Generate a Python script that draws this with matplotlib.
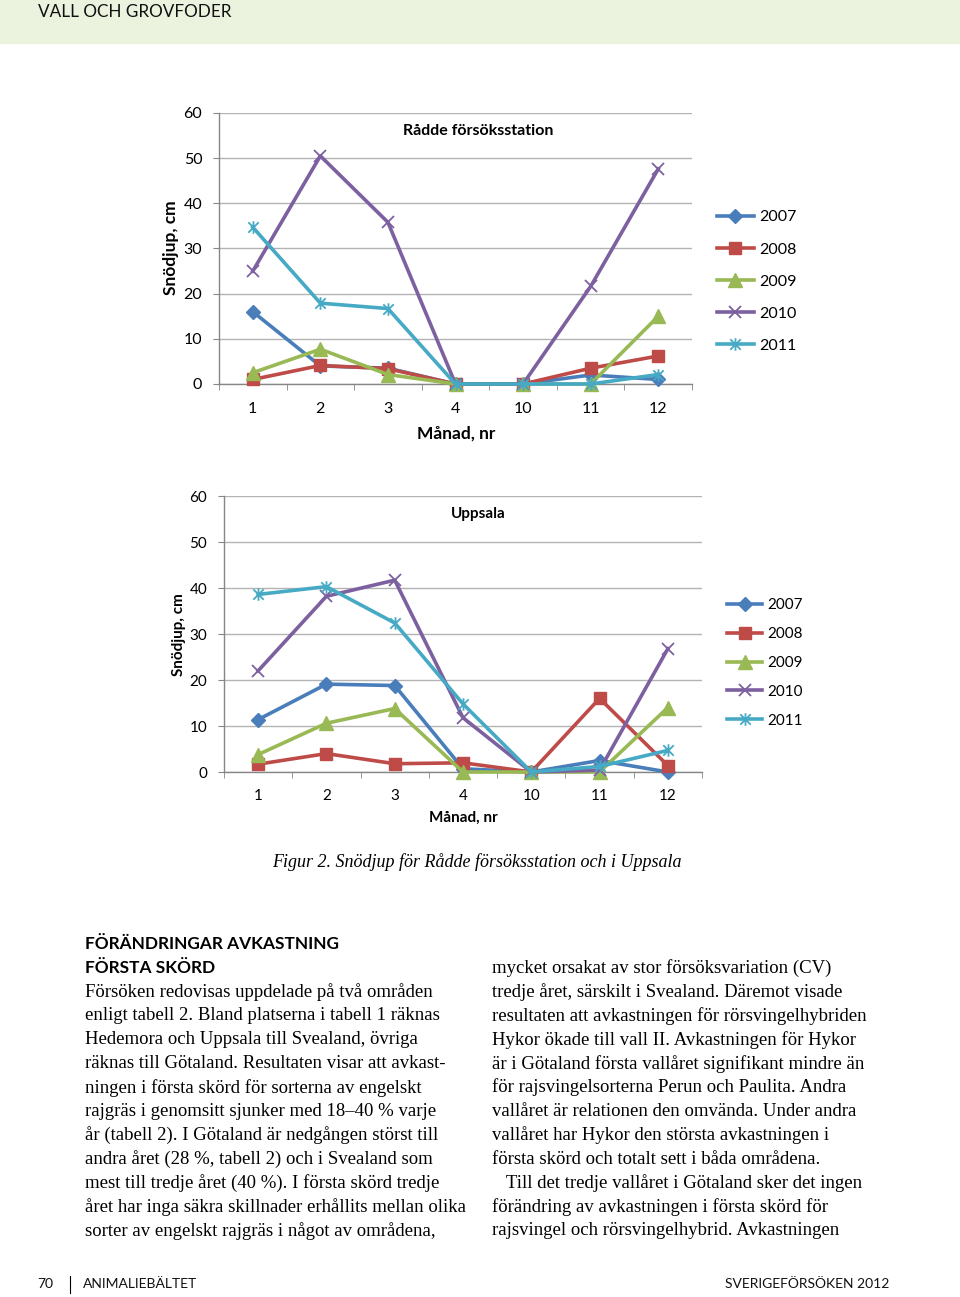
import numpy as np
import matplotlib
matplotlib.use("Agg")
import matplotlib.pyplot as plt
from matplotlib.path import Path

W, H = 960, 1297

# ---- data ----
months = ["1", "2", "3", "4", "10", "11", "12"]
years = ["2007", "2008", "2009", "2010", "2011"]

radde_2007 = [16, 4, 3.5, 0, 0, 2, 1]
radde_2008 = [1, 4.1, 3.4, 0, 0, 3.5, 6.2]
radde_2009 = [2.5, 7.7, 2.1, 0, 0, 0, 15]
radde_2010 = [25, 50.5, 35.8, 0, 0, 21.6, 47.6]
radde_2011 = [34.7, 17.9, 16.7, 0, 0, 0, 2.1]

upp_2007 = [11.4, 19.1, 18.8, 0.7, 0, 2.5, 0]
upp_2008 = [1.7, 4, 1.8, 2, 0, 16, 1.4]
upp_2009 = [3.8, 10.6, 13.8, 0, 0, 0, 14]
upp_2010 = [22, 38.2, 41.7, 11.8, 0, 0.4, 26.8]
upp_2011 = [38.6, 40.3, 32.4, 14.8, 0, 1.2, 4.7]

yticks = [0, 10, 20, 30, 40, 50, 60]

left_lines = [
    "Försöken redovisas uppdelade på två områden",
    "enligt tabell 2. Bland platserna i tabell 1 räknas",
    "Hedemora och Uppsala till Svealand, övriga",
    "räknas till Götaland. Resultaten visar att avkast-",
    "ningen i första skörd för sorterna av engelskt",
    "rajgräs i genomsitt sjunker med 18–40 % varje",
    "år (tabell 2). I Götaland är nedgången störst till",
    "andra året (28 %, tabell 2) och i Svealand som",
    "mest till tredje året (40 %). I första skörd tredje",
    "året har inga säkra skillnader erhållits mellan olika",
    "sorter av engelskt rajgräs i något av områdena,",
]
right_lines = [
    "mycket orsakat av stor försöksvariation (CV)",
    "tredje året, särskilt i Svealand. Däremot visade",
    "resultaten att avkastningen för rörsvingelhybriden",
    "Hykor ökade till vall II. Avkastningen för Hykor",
    "är i Götaland första vallåret signifikant mindre än",
    "för rajsvingelsorterna Perun och Paulita. Andra",
    "vallåret är relationen den omvända. Under andra",
    "vallåret har Hykor den största avkastningen i",
    "första skörd och totalt sett i båda områdena.",
    "   Till det tredje vallåret i Götaland sker det ingen",
    "förändring av avkastningen i första skörd för",
    "rajsvingel och rörsvingelhybrid. Avkastningen",
]

# ---- styling ----
colors = ["#4A7EBB", "#BE4B48", "#98B954", "#7D60A0", "#46AAC5"]
star = Path([(-1, -1), (1, 1), (-1, 1), (1, -1), (0, -1.2), (0, 1.2)],
            [Path.MOVETO, Path.LINETO, Path.MOVETO, Path.LINETO, Path.MOVETO, Path.LINETO])
mstyle = [
    dict(marker="D", ms=7.5),
    dict(marker="s", ms=8.5),
    dict(marker="^", ms=9.5),
    dict(marker="x", ms=8, mew=1.3),
    dict(marker=star, ms=9, mew=1.3),
]
serif = ["Liberation Serif", "DejaVu Serif"]

plt.rcParams["font.family"] = ["Lato", "DejaVu Sans"]

fig = plt.figure(figsize=(W / 100, H / 100), dpi=100)


def fx(x):
    return x / W


def fy(y):
    return 1 - y / H


def chart(rect, series, title, title_xy, legend_xy, tsize, lspace, xpad):
    l, t, r, b = rect
    ax = fig.add_axes([fx(l), fy(b), (r - l) / W, (b - t) / H])
    x = np.arange(len(months))
    for vals, c, ms, yr in zip(series, colors, mstyle, years):
        ax.plot(x, vals, color=c, lw=2.6, label=yr, clip_on=False,
                markerfacecolor=c, markeredgecolor=c, zorder=3, **ms)
    ax.set_xlim(-0.5, len(months) - 0.5)
    ax.set_ylim(0, 60)
    ax.set_yticks(yticks)
    ax.set_xticks(x)
    ax.set_xticklabels(months)
    ax.set_xticks(np.arange(-0.5, len(months)), minor=True)
    ax.tick_params(axis="x", which="major", length=0, pad=xpad, labelsize=tsize)
    ax.tick_params(axis="x", which="minor", length=4, color="#868686", direction="out")
    ax.tick_params(axis="y", length=4, color="#868686", pad=8, labelsize=tsize)
    ax.grid(axis="y", color="#B3B3B3", lw=1)
    ax.set_axisbelow(True)
    for s in ["top", "right"]:
        ax.spines[s].set_visible(False)
    for s in ["left", "bottom"]:
        ax.spines[s].set_color("#868686")
        ax.spines[s].set_linewidth(1)
    fig.text(fx(title_xy[0]), fy(title_xy[1]), title, ha="center", va="center",
             fontsize=tsize, fontweight="bold")
    ax.legend(loc="center left", bbox_to_anchor=(fx(legend_xy[0]), fy(legend_xy[1])),
              bbox_transform=fig.transFigure, frameon=False, fontsize=tsize,
              handlelength=2.3, handletextpad=0.35, labelspacing=lspace,
              borderpad=0, borderaxespad=0)
    return ax


ax1 = chart((219, 113, 692, 384),
            [radde_2007, radde_2008, radde_2009, radde_2010, radde_2011],
            "Rådde försöksstation", (478, 131), (717, 281.5), 11.5, 1.12, 13)
fig.text(fx(171), fy(248), "Snödjup, cm", rotation=90, ha="center", va="center",
         fontsize=12.5, fontweight="bold")
fig.text(fx(456), fy(434), "Månad, nr", ha="center", va="center", fontsize=12.5,
         fontweight="bold")

ax2 = chart((224, 496, 702, 772),
            [upp_2007, upp_2008, upp_2009, upp_2010, upp_2011],
            "Uppsala", (478, 514), (727, 663), 11, 0.97, 12)
fig.text(fx(179), fy(635), "Snödjup, cm", rotation=90, ha="center", va="center",
         fontsize=11, fontweight="bold")
fig.text(fx(463), fy(818), "Månad, nr", ha="center", va="center", fontsize=11,
         fontweight="bold")

# header band
fig.patches.append(plt.Rectangle((0, fy(43)), 1, 43 / H, transform=fig.transFigure,
                                 color="#EBF3DF", zorder=0))
fig.text(fx(38), fy(12), "VALL OCH GROVFODER", ha="left", va="center", fontsize=12.3,
         color="#111111")

# caption
fig.text(fx(272), fy(862), "Figur 2. Snödjup för Rådde försöksstation och i Uppsala",
         ha="left", va="center", fontsize=13, style="italic", family=serif)

# body text
fig.text(fx(85), fy(944), "FÖRÄNDRINGAR AVKASTNING", ha="left", va="center",
         fontsize=12.4, fontweight="bold")
fig.text(fx(85), fy(968), "FÖRSTA SKÖRD", ha="left", va="center",
         fontsize=12.4, fontweight="bold")
for i, line in enumerate(left_lines):
    fig.text(fx(85), fy(992 + i * 23.9), line, ha="left", va="center", fontsize=13.5,
             family=serif)
for i, line in enumerate(right_lines):
    fig.text(fx(492), fy(968 + i * 23.9), line, ha="left", va="center", fontsize=13.5,
             family=serif)

# footer
fig.text(fx(37), fy(1284), "70", ha="left", va="center", fontsize=10, color="#111111")
fig.lines.append(plt.Line2D([fx(70), fx(70)], [fy(1276), fy(1293)],
                            transform=fig.transFigure, color="black", lw=0.8))
fig.text(fx(83), fy(1284), "ANIMALIEBÄLTET", ha="left", va="center", fontsize=10,
         color="#111111")
fig.text(fx(889), fy(1284), "SVERIGEFÖRSÖKEN 2012", ha="right", va="center", fontsize=10,
         color="#111111")

fig.savefig("out.png", dpi=100)
